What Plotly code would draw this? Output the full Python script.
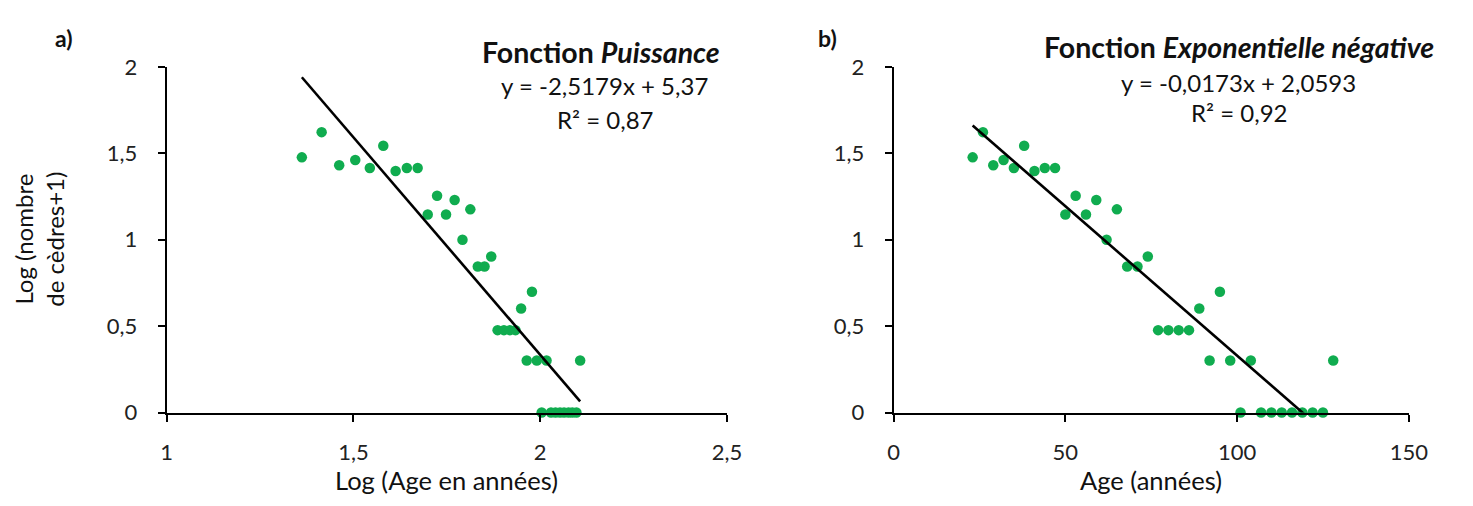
import plotly.graph_objects as go

# ---- data ----
ages = [23, 26, 29, 32, 35, 38, 41, 44, 47, 50, 53, 56, 59, 62, 65, 68, 71, 74,
        77, 80, 83, 86, 89, 92, 95, 98, 101, 104, 107, 110, 113, 116, 119, 122, 125, 128]
log_ages = [1.362, 1.415, 1.462, 1.505, 1.544, 1.580, 1.613, 1.643, 1.672, 1.699,
            1.724, 1.748, 1.771, 1.792, 1.813, 1.833, 1.851, 1.869, 1.886, 1.903,
            1.919, 1.934, 1.949, 1.964, 1.978, 1.991, 2.004, 2.017, 2.029, 2.041,
            2.053, 2.064, 2.076, 2.086, 2.097, 2.107]
log_counts = [1.477, 1.623, 1.431, 1.462, 1.415, 1.544, 1.398, 1.415, 1.415, 1.146,
              1.255, 1.146, 1.230, 1.000, 1.176, 0.845, 0.845, 0.903, 0.477, 0.477,
              0.477, 0.477, 0.602, 0.301, 0.699, 0.301, 0.000, 0.301, 0.000, 0.000,
              0.000, 0.000, 0.000, 0.000, 0.000, 0.301]

# trend lines (slope, intercept) as printed on the chart
pow_slope, pow_intercept = -2.5179, 5.37
exp_slope, exp_intercept = -0.0173, 2.0593

left_xticks = [1, 1.5, 2, 2.5]
left_xticktext = ["1", "1,5", "2", "2,5"]
right_xticks = [0, 50, 100, 150]
right_xticktext = ["0", "50", "100", "150"]
yticks = [0, 0.5, 1, 1.5, 2]
yticktext = ["0", "0,5", "1", "1,5", "2"]

# ---- figure ----
W, H = 1473, 506
FONT = "Lato"
GREEN = "#10AC4F"

def px(x):
    return x / W

def py(y):
    return 1 - y / H

fig = go.Figure()

# left panel
fig.add_trace(go.Scatter(x=log_ages, y=log_counts, mode="markers",
                         marker=dict(color=GREEN, size=10.5, line=dict(width=0)),
                         cliponaxis=False, xaxis="x", yaxis="y", showlegend=False))
lx = [log_ages[0], log_ages[-1]]
fig.add_trace(go.Scatter(x=lx, y=[pow_intercept + pow_slope * v for v in lx], mode="lines",
                         line=dict(color="black", width=2.6), xaxis="x", yaxis="y",
                         showlegend=False))
# right panel
fig.add_trace(go.Scatter(x=ages, y=log_counts, mode="markers",
                         marker=dict(color=GREEN, size=10.5, line=dict(width=0)),
                         cliponaxis=False, xaxis="x2", yaxis="y2", showlegend=False))
rx = [ages[0], ages[-1]]
fig.add_trace(go.Scatter(x=rx, y=[exp_intercept + exp_slope * v for v in rx], mode="lines",
                         line=dict(color="black", width=2.6), xaxis="x2", yaxis="y2",
                         showlegend=False))

ydom = [py(421), py(56)]
axcommon = dict(showgrid=False, zeroline=False, showline=True, linecolor="black",
                linewidth=2, ticks="outside", ticklen=7, tickwidth=2, tickcolor="black",
                tickfont=dict(family=FONT, size=22, color="#222"))

fig.update_layout(
    width=W, height=H, autosize=False,
    margin=dict(l=0, r=0, t=0, b=0),
    paper_bgcolor="white", plot_bgcolor="white",
    font=dict(family=FONT, color="#222"),
    xaxis=dict(domain=[px(163.4), px(733.4)], range=[1, 2.5], anchor="y",
               tickvals=left_xticks, ticktext=left_xticktext, ticklabelstandoff=12, **axcommon),
    yaxis=dict(domain=ydom, range=[0, 2], anchor="x",
               tickvals=yticks, ticktext=yticktext, ticklabelstandoff=16, **axcommon),
    xaxis2=dict(domain=[px(903), px(1427)], range=[0, 150], anchor="y2",
                tickvals=right_xticks, ticktext=right_xticktext, ticklabelstandoff=12, **axcommon),
    yaxis2=dict(domain=ydom, range=[0, 2], anchor="x2",
                tickvals=yticks, ticktext=yticktext, ticklabelstandoff=16, **axcommon),
)

def ann(text, x, y, size, bold=False, angle=0):
    fig.add_annotation(text=(f"<b>{text}</b>" if bold else text), x=px(x), y=py(y),
                       xref="paper", yref="paper", xanchor="center", yanchor="middle",
                       showarrow=False, textangle=angle,
                       font=dict(family=FONT, size=size, color="#111"))

ann("a)", 59, 25, 23, bold=True)
ann("b)", 836, 25, 23, bold=True)
ann("Fonction <i>Puissance</i>", 605, 40, 28.5, bold=True)
ann("y = -2,5179x + 5,37", 609, 76, 24)
ann("R² = 0,87", 609, 111, 24)
ann("Fonction <i>Exponentielle négative</i>", 1254, 35, 28.5, bold=True)
ann("y = -0,0173x + 2,0593", 1254, 72, 24)
ann("R² = 0,92", 1254, 104, 24)
ann("Log (Age en années)", 448, 492, 25.5)
ann("Age (années)", 1165, 492, 25.5)
ann("Log (nombre<br>de cèdres+1)", 34, 238, 24, angle=-90)

fig.write_html("out.html")
